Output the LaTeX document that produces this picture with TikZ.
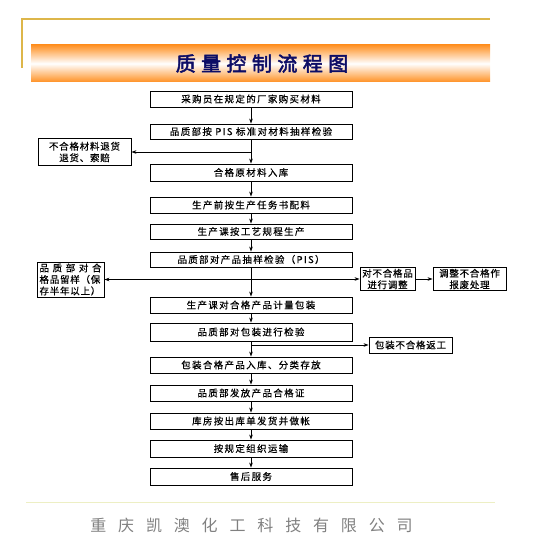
\documentclass[tikz,border=0pt]{standalone}
\usepackage{fontspec}
\usetikzlibrary{arrows.meta}
\newfontfamily\cjk{Noto Sans CJK SC}
\newfontfamily\cjkbox[LetterSpace=14,FakeBold=0.4]{Noto Sans CJK SC}
\newfontfamily\cjkside[LetterSpace=8,FakeBold=0.4]{Noto Sans CJK SC}
\newfontfamily\cjktitle[LetterSpace=27,FakeBold=2.5]{Noto Sans CJK SC}
\newfontfamily\cjkfoot[LetterSpace=74]{Noto Sans CJK SC}
\definecolor{goldline}{HTML}{DDB64A}
\definecolor{bannerorange}{HTML}{FF9124}
\definecolor{titlenavy}{HTML}{0D0D66}
\definecolor{footline}{HTML}{EDEFC4}
\begin{document}
\begin{tikzpicture}[x=1pt,y=-1pt,
  stepbox/.style={draw, line width=0.9pt, minimum width=202pt, minimum height=16pt, inner sep=0pt,
    font=\cjkbox\fontsize{9.5}{11}\selectfont},
  sidebox/.style={draw, line width=0.9pt, inner sep=1pt, align=center,
    font=\cjkside\fontsize{9.5}{11.5}\selectfont},
  arr/.style={-{Stealth[length=5pt,width=3.6pt]}, line width=0.7pt},
  conn/.style={line width=0.7pt}]
\useasboundingbox (0,0) rectangle (540,559);
% header
\draw[goldline, line width=1.6pt] (22,68) -- (22,19) -- (490,19);
\shade[top color=bannerorange, bottom color=bannerorange, middle color=white] (31,45) rectangle (490,82);
\node[font=\cjktitle\fontsize{20}{22}\selectfont, text=titlenavy] (title) at (262,63.5) {质量控制流程图};
% main chain
\node[stepbox] (b1) at (251,99) {采购员在规定的厂家购买材料};
\node[stepbox, minimum height=15pt] (b2) at (251,131.5) {品质部按 PIS 标准对材料抽样检验};
\node[stepbox, minimum height=17pt] (b3) at (251,172.5) {合格原材料入库};
\node[stepbox] (b4) at (251,205) {生产前按生产任务书配料};
\node[stepbox, minimum height=15pt] (b5) at (251,231.5) {生产课按工艺规程生产};
\node[stepbox, minimum height=15pt] (b6) at (251,259.5) {品质部对产品抽样检验（PIS）};
\node[stepbox] (b7) at (251,305) {生产课对合格产品计量包装};
\node[stepbox, minimum height=18pt] (b8) at (251,332) {品质部对包装进行检验};
\node[stepbox] (b9) at (251,365) {包装合格产品入库、分类存放};
\node[stepbox] (b10) at (251,393) {品质部发放产品合格证};
\node[stepbox] (b11) at (251,421) {库房按出库单发货并做帐};
\node[stepbox, minimum height=17pt] (b12) at (251,448.5) {按规定组织运输};
\node[stepbox, minimum height=17pt] (b13) at (251,476.5) {售后服务};
% side boxes
\node[sidebox, minimum width=93pt, minimum height=27pt] (l1) at (84.5,152) {不合格材料退货\\退货、索赔};
\node[sidebox, minimum width=67pt, minimum height=35pt, align=left, inner sep=1pt,
  font=\cjkside\fontsize{9.5}{11.5}\selectfont] (l2) at (70.5,279.5)
  {\makebox[62pt][s]{品\hfill 质\hfill 部\hfill 对\hfill 合}\\格品留样（保\\存半年以上）};
\node[sidebox, minimum width=55pt, minimum height=22pt] (r1) at (387.5,279) {对不合格品\\进行调整};
\node[sidebox, minimum width=73pt, minimum height=22pt] (r2) at (469.5,279) {调整不合格作\\报废处理};
\node[sidebox, minimum width=83pt, minimum height=16pt] (p1) at (410.5,345) {包装不合格返工};
% connectors
\draw[arr] (b1.south) -- (b2.north);
\draw[arr] (b2.south) -- (b3.north);
\draw[arr] (b2.south |- l1.east) -- (l1.east);
\draw[arr] (b3.south) -- (b4.north);
\draw[arr] (b4.south) -- (b5.north);
\draw[arr] (b5.south) -- (b6.north);
\draw[arr] (b6.south) -- (b7.north);
\draw[arr] (b6.south |- l2.east) -- (l2.east);
\draw[arr] (b6.south |- r1.west) -- (r1.west);
\draw[arr] (r1.east) -- (r2.west);
\draw[arr] (b7.south) -- (b8.north);
\draw[arr] (b8.south) -- (b9.north);
\draw[arr] (b8.south |- p1.west) -- (p1.west);
\draw[arr] (b9.south) -- (b10.north);
\draw[arr] (b10.south) -- (b11.north);
\draw[arr] (b11.south) -- (b12.north);
\draw[arr] (b12.south) -- (b13.north);
% footer
\draw[footline, line width=1pt] (26,502) -- (495,502);
\node[font=\cjkfoot\fontsize{16}{18}\selectfont, text=black!50] (company) at (251.5,525) {重庆凯澳化工科技有限公司};
\end{tikzpicture}
\end{document}
